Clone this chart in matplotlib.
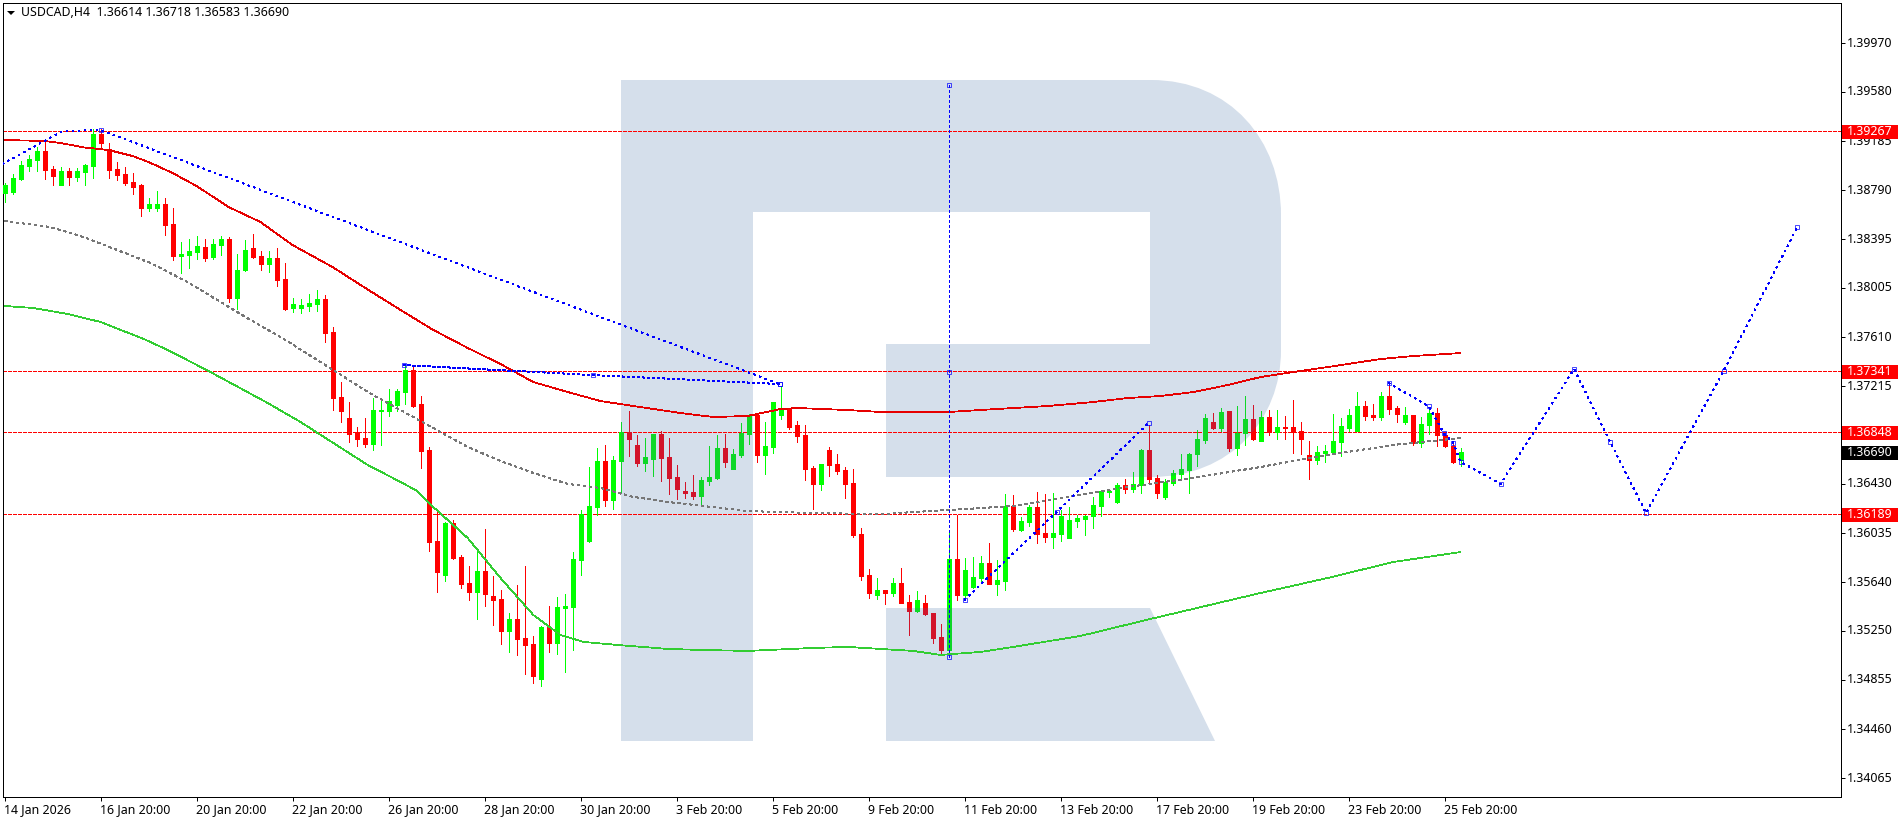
import numpy as np
import matplotlib
matplotlib.use("Agg")
import matplotlib.pyplot as plt
from matplotlib.patches import PathPatch, Rectangle, Polygon
from matplotlib.path import Path
from matplotlib.transforms import Affine2D, blended_transform_factory

# Prices, in units of 0.00001
opens = [
138774,138780,138884,138988,139036,139108,138964,138836,138948,138900,
138940,138988,139244,139124,138964,138924,138860,138836,138652,138652,
138684,138523,138267,138275,138299,138339,138259,138355,138403,137931,
138155,138331,138267,138203,138251,138083,137851,137851,137867,137883,
137923,137659,137139,136970,136850,136810,136762,137026,137026,137074,
137179,137355,137082,136714,135986,135713,136130,135857,135649,135577,
135745,135545,135521,135265,135361,135209,135161,134881,135297,135169,
135449,135457,135833,135986,136258,136626,136314,136626,136858,136754,
136610,136642,136842,136658,136498,136386,136378,136346,136465,136489,
136730,136561,136673,136842,136994,136673,136738,136994,137042,136914,
136834,136569,136441,136714,136601,136553,136449,136041,135713,135553,
135593,135569,135649,135496,135424,135488,135408,135216,135112,135841,
135553,135617,135689,135809,135641,135665,136265,136073,136137,136257,
136049,136017,136041,136009,136145,136161,136185,136265,136377,136297,
136433,136401,136433,136713,136489,136337,136449,136521,136553,136681,
136793,136938,136890,137026,136729,136849,136962,136785,136978,136858,
136898,136898,136866,136673,136633,136689,136697,136777,136890,136866,
137066,136994,136978,137146,137050,136938,136994,136769,136914,137010,
136833,136745,136633]
closes = [
138836,138892,138996,139044,139108,138956,138908,138948,138900,138948,
138996,139244,139172,138956,138916,138852,138820,138652,138684,138684,
138515,138267,138283,138307,138347,138251,138363,138403,137931,138155,
138315,138259,138203,138251,138075,137843,137883,137875,137891,137923,
137651,137131,137026,136842,136802,136762,137034,137034,137107,137187,
137355,137066,136706,135977,135737,136130,135849,135641,135577,135745,
135561,135513,135265,135361,135201,135153,134905,135297,135169,135457,
135465,135841,136202,136266,136626,136314,136634,136858,136802,136610,
136658,136842,136650,136490,136402,136370,136346,136474,136497,136730,
136617,136681,136850,136994,136673,136746,137098,137042,136898,136826,
136561,136441,136601,136593,136545,136441,136033,135705,135569,135593,
135569,135649,135488,135424,135512,135400,135208,135112,135841,135553,
135753,135697,135809,135641,135673,136265,136081,136145,136257,136041,
136017,136049,136185,136153,136169,136185,136273,136385,136385,136433,
136401,136441,136713,136481,136369,136457,136529,136561,136681,136801,
136970,136890,137018,136729,136849,136962,136801,136978,136858,136898,
136890,136858,136801,136633,136697,136705,136785,136906,136994,137066,
136986,136978,137146,137042,137002,136994,136769,136922,137010,136833,
136745,136617,136697]
highs = [
138854,138924,139025,139076,139140,139191,138988,138980,138972,138972,
139004,139284,139284,139172,139020,138980,138932,138841,138732,138788,
138732,138652,138379,138403,138427,138403,138403,138427,138419,138283,
138395,138443,138307,138307,138331,138211,137931,137923,137963,137995,
137955,137699,137259,137098,136898,136970,137131,137123,137203,137203,
137395,137395,137147,136738,136226,136138,136154,135873,135785,135921,
136082,135705,135593,135409,135633,135785,135225,135305,135465,135537,
135561,135897,136234,136578,136730,136754,136666,136938,137026,136834,
136810,136842,136866,136810,136594,136458,136514,136498,136746,136834,
136842,136722,136930,137002,137002,136938,137098,137226,137050,136946,
136914,136585,136601,136738,136681,136577,136561,136089,135761,135689,
135593,135689,135769,135553,135585,135553,135408,135320,136057,136193,
135849,135857,135865,135969,135833,136361,136353,136177,136273,136377,
136361,136369,136233,136257,136193,136193,136337,136393,136393,136449,
136481,136537,136721,136914,136513,136481,136553,136681,136689,136874,
137002,137010,137050,137026,137066,137146,137074,137026,137034,137034,
136986,137114,136938,136785,136745,136753,137002,136970,137042,137178,
137106,137082,137178,137234,137066,137058,136994,136978,137058,137050,
136841,136769,136729]
lows = [
138702,138764,138876,138948,138948,138884,138836,138836,138836,138868,
138836,138892,139127,138892,138876,138836,138764,138587,138628,138628,
138435,138235,138131,138171,138243,138227,138243,138275,137899,137843,
138147,138251,138155,138139,138027,137835,137819,137811,137827,137827,
137579,137034,136938,136778,136746,136738,136714,136754,136986,137026,
137082,137058,136570,135905,135577,135665,135841,135609,135513,135361,
135465,135313,135161,135097,135073,134921,134849,134825,135097,135081,
134937,135113,135713,135977,136194,136266,136242,136370,136666,136586,
136546,136506,136466,136362,136322,136330,136322,136282,136433,136481,
136577,136561,136657,136762,136617,136521,136689,136962,136882,136778,
136473,136241,136393,136505,136521,136329,136017,135673,135528,135520,
135480,135544,135488,135232,135416,135392,135168,135088,135072,135512,
135536,135609,135649,135641,135553,135593,136065,136065,136105,135969,
135977,135929,135985,136009,136097,136033,136089,136185,136337,136289,
136369,136377,136369,136457,136329,136321,136433,136489,136369,136585,
136769,136882,136866,136705,136673,136753,136793,136785,136833,136801,
136801,136689,136681,136481,136601,136617,136697,136665,136866,136866,
136954,136954,136954,137002,136938,136922,136753,136737,136841,136745,
136737,136609,136585]

ma_red_bar = [0,5,7,10,13,16,18,21,24,28,32,36,41,45.4,49.5,53.6,57.9,62,66.1,70.4,74.5,78.6,84.5,88.6,
              92.9,97,99.1,105.4,109.5,117.9,122,126.1,130.4,136.1,140.4,144.5,148.6,152.9,157,161.1,165.4,169.5,172,176,182]
ma_red_val = [139196,139188,139172,139136,139116,139068,139020,138932,138828,138660,138539,138355,138179,137999,
              137835,137675,137531,137402,137258,137178,137106,137066,137010,136978,136986,137042,137050,137034,
              137018,137018,137034,137050,137066,137098,137130,137146,137178,137234,137298,137338,137378,137418,137442,137466,137490]

ma_gray_bar = [0,5.75,9.9,14.1,18.25,22.4,26.6,30.75,34.9,41.1,45.4,49.5,53.6,57.9,62,66.1,70.4,74.5,78.6,82.9,
               92.9,101.1,109.5,117.9,126.1,134.5,140.4,148.6,157,165.4,173.6,182]
ma_gray_val = [138547,138499,138419,138315,138211,138075,137915,137755,137603,137354,137178,137034,136890,136738,
               136626,136530,136442,136410,136338,136298,136225,136209,136201,136233,136265,136354,136418,136490,
               136578,136674,136754,136810]

ma_green_bar = [0,3.6,7.9,12,17.4,20.4,25.75,32.9,37,41.1,45.4,49.5,51.6,53.6,57.9,62,66.1,69.5,72.4,76.6,82.9,87,
                92.9,101.1,105.4,113.6,117,122,126.1,134.5,143.25,157,165.4,173.6,182]
ma_green_val = [137867,137851,137803,137739,137603,137515,137338,137090,136938,136770,136594,136458,136386,136257,
                136009,135689,135393,135232,135177,135153,135121,135113,135105,135129,135137,135105,135073,135097,
                135137,135225,135361,135569,135689,135817,135897]

wave_bars = [
    [-0.25,7.25,12,96.9],
    [96.9,73.5,49.9],
    [118,118,118],
    [120,131.5,143],
    [173,178,179.9,181.1,182,187,196.2,200.7,205.2,214.9,224.1],
]
wave_vals = [
    [139004,139268,139276,137242],
    [137242,137314,137394],
    [139636,137338,135056],
    [135513,136217,136930],
    [137250,137066,136850,136770,136620,136442,137362,136780,136209,137349,138499],
]
wave_marked_from = [2,0,0,0,0]
wave_dense = [False,True,True,False,False]

level_prices = [1.39267, 1.37341, 1.36848, 1.36189]
last_price = 1.36690
ytick_values = [1.39970,1.39580,1.39185,1.38790,1.38395,1.38005,1.37610,1.37215,1.36825,1.36430,
                1.36035,1.35640,1.35250,1.34855,1.34460,1.34065]
hidden_yticks = [1.36825]
xtick_labels = ["14 Jan 2026","16 Jan 20:00","20 Jan 20:00","22 Jan 20:00","26 Jan 20:00","28 Jan 20:00",
                "30 Jan 20:00","3 Feb 20:00","5 Feb 20:00","9 Feb 20:00","11 Feb 20:00","13 Feb 20:00",
                "17 Feb 20:00","19 Feb 20:00","23 Feb 20:00","25 Feb 20:00"]
header = "USDCAD,H4  1.36614 1.36718 1.36583 1.36690"

# ---------------------------------------------------------------- layout
W, H = 1904, 821
FONT = "Noto Sans"
FS = 8.9
plt.rcParams["font.family"] = FONT
LEFT, RIGHT, TOP, BOTTOM = 2.5, 1841.0, 2.5, 797.0
PX_PER_BAR = 8.0
BAR0_PX = 4.5
PTS_PER_PX = 8.034
PRICE_AT_0 = 1.40318
FINE = 0.55            # thin aliased line, in points
DENSE = (0, (3.9, 2.8))
SPARSE = (0, (2.6, 6.0))


def calibrate(v):
    """Readings were taken on a slightly narrower scale; bring them on to the axis scale."""
    return PRICE_AT_0 + (np.asarray(v, dtype=float) * 1e-5 - 1.40317) * (8.034 / 8.007)


fig = plt.figure(figsize=(W / 100, H / 100), dpi=100, facecolor="white")
ax = fig.add_axes([LEFT / W, 1 - BOTTOM / H, (RIGHT - LEFT) / W, (BOTTOM - TOP) / H])
ax.set_xlim((LEFT - BAR0_PX) / PX_PER_BAR, (RIGHT - BAR0_PX) / PX_PER_BAR)
ax.set_ylim(PRICE_AT_0 - BOTTOM * PTS_PER_PX * 1e-5, PRICE_AT_0 - TOP * PTS_PER_PX * 1e-5)
ax.set_facecolor("white")
for s in ax.spines.values():
    s.set_linewidth(0.72)
    s.set_color("black")
    s.set_antialiased(False)

# ---------------------------------------------------------------- watermark
px = Affine2D().scale(1, -1).translate(0, H)
M, L, C4, Z = Path.MOVETO, Path.LINETO, Path.CURVE4, Path.CLOSEPOLY
verts = [(621, 80), (1151, 80), (1230, 80), (1281, 140), (1281, 215), (1281, 350), (1281, 420), (1230, 477),
         (1151, 477), (886, 477), (886, 344), (1150, 344), (1150, 212), (753, 212), (753, 741), (621, 741), (621, 80),
         (886, 608), (1150, 608), (1215, 741), (886, 741), (886, 608)]
codes = [M, L, C4, C4, C4, L, C4, C4, C4, L, L, L, L, L, L, L, Z, M, L, L, L, Z]
logo = PathPatch(Path(verts, codes), facecolor="#d5dfeb", edgecolor="none", transform=px, zorder=0)
ax.add_patch(logo)

# ---------------------------------------------------------------- candles
xs = np.arange(len(opens))
o, c, h, l = map(calibrate, (opens, closes, highs, lows))
up = c >= o
BODY_W = 4 / PX_PER_BAR


def candles(col_up, col_dn, z, clip=None):
    cols = [col_up if u else col_dn for u in up]
    wick = ax.vlines(xs, l, h, colors=cols, linewidth=0.72, zorder=z, antialiased=False)
    bodies = ax.bar(xs, np.abs(c - o), bottom=np.minimum(o, c), width=BODY_W, color=cols, edgecolor=cols,
                    linewidth=0.72, zorder=z + 0.1, antialiased=False)
    if clip is not None:
        wick.set_clip_path(clip)
        for r in bodies:
            r.set_clip_path(clip)


candles("#00ff00", "#ff0000", 3)
candles("#0fd728", "#d2142a", 3.2, clip=logo)

# ---------------------------------------------------------------- levels, averages, wave
for p in level_prices:
    ax.axhline(p, color="#ff0000", linewidth=0.72, linestyle=(0, (3, 2)), zorder=1.5, antialiased=False)
ax.plot(ma_red_bar, calibrate(ma_red_val), color="#e60000", lw=FINE, zorder=4, antialiased=False)
ax.plot(ma_gray_bar, calibrate(ma_gray_val), color="#777777", lw=FINE, ls=(0, (3.3, 5.0)), zorder=4, antialiased=False)
ax.plot(ma_green_bar, calibrate(ma_green_val), color="#32cd32", lw=FINE, zorder=4, antialiased=False)
for bx, by, m, dense in zip(wave_bars, wave_vals, wave_marked_from, wave_dense):
    by = calibrate(by)
    ax.plot(bx, by, color="#0000ff", lw=FINE, ls=DENSE if dense else SPARSE, zorder=5, antialiased=False)
    ax.plot(bx[m:], by[m:], ls="none", marker="s", ms=3.2, mfc="none", mec="#0000ff", mew=0.5, zorder=5)

# ---------------------------------------------------------------- axes
ax.set_xticks(np.arange(len(xtick_labels)) * 12)
ax.set_xticklabels([])
ax.tick_params(axis="x", length=3, width=0.72, direction="out", color="black")
ax.yaxis.tick_right()
ax.set_yticks(ytick_values)
ax.set_yticklabels([])
ax.tick_params(axis="y", length=3, width=0.72, direction="out", color="black")

xtr = blended_transform_factory(ax.transData, px)
for k, t in enumerate(xtick_labels):
    ax.text(k * 12 - 0.1, 810, t, transform=xtr, ha="left", va="center", fontsize=FS, color="black", clip_on=False)
ytr = blended_transform_factory(px, ax.transData)
for v in ytick_values:
    if v not in hidden_yticks:
        ax.text(1847, v, f"{v:.5f}", transform=ytr, ha="left", va="center", fontsize=FS, color="black", clip_on=False)
box_h = 14 * PTS_PER_PX * 1e-5
box_drop = 1 * PTS_PER_PX * 1e-5
for p, bg in [(q, "#ff0000") for q in level_prices] + [(last_price, "#000000")]:
    ax.add_patch(Rectangle((1842, p - box_drop - box_h / 2), 56, box_h, transform=ytr, facecolor=bg, edgecolor="none",
                           clip_on=False, zorder=6))
    ax.text(1847, p - box_drop, f"{p:.5f}", transform=ytr, ha="left", va="center", fontsize=FS, color="white",
            clip_on=False, zorder=7)

ax.text(21, 12.5, header, transform=px, ha="left", va="center", fontsize=FS, color="black", zorder=7)
ax.add_patch(Polygon([(7, 11), (15, 11), (11, 15)], closed=True, transform=px, facecolor="black", edgecolor="none", zorder=7))

fig.savefig("out.png", dpi=100, facecolor="white")
